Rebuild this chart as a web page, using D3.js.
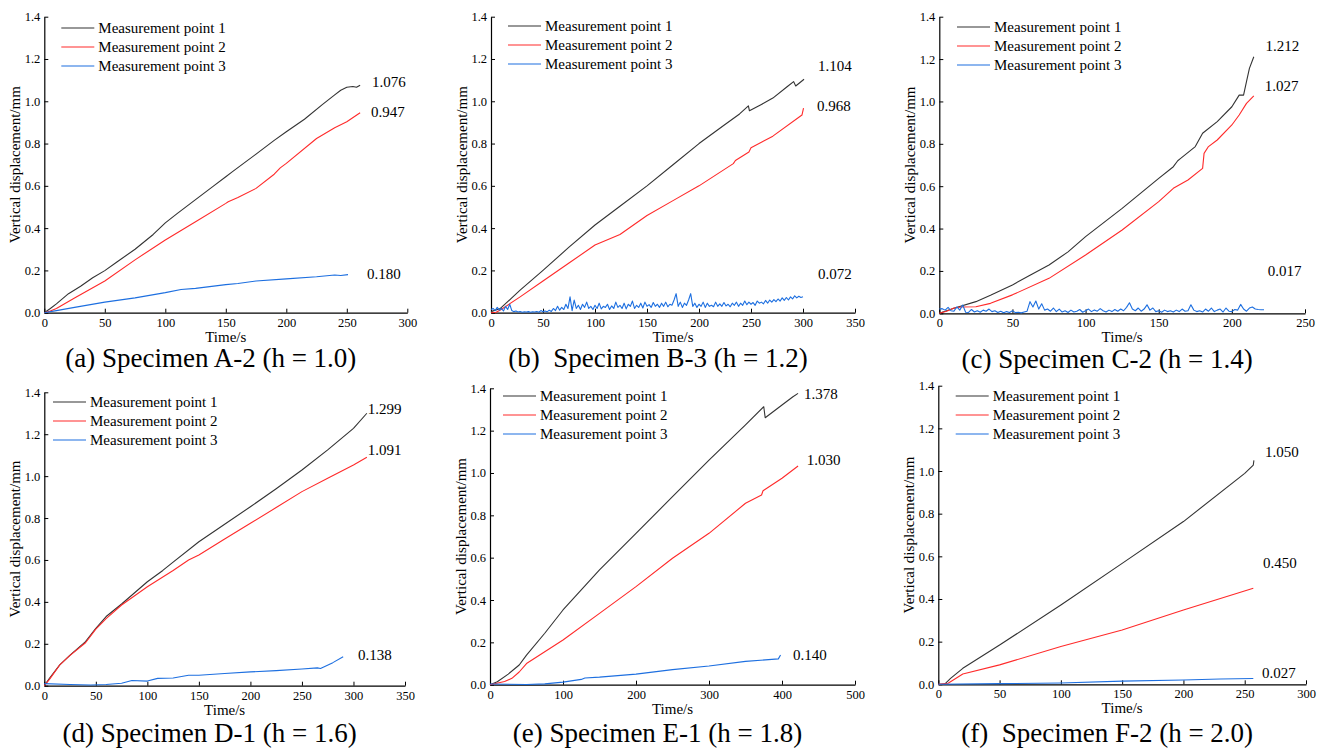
<!DOCTYPE html>
<html>
<head>
<meta charset="utf-8">
<script src="https://cdn.jsdelivr.net/npm/d3@7"></script>
<style>
  body { margin: 0; background: #fff; }
  svg { display: block; }
  text { font-family: "Liberation Serif", "Times New Roman", serif; fill: #000; }
</style>
</head>
<body>
<svg id="chart" width="1327" height="749"></svg>
<script>
// ---- data (time in s, displacement in mm) ----
var seriesNames = ['Measurement point 1', 'Measurement point 2', 'Measurement point 3'];
var seriesColors = ['#333333', '#ff2a2a', '#1d6fe0'];
var yTicks = [0, 0.2, 0.4, 0.6, 0.8, 1.0, 1.2, 1.4];

var titles = ['(a) Specimen A-2 (h = 1.0)', '(b)  Specimen B-3 (h = 1.2)', '(c) Specimen C-2 (h = 1.4)',
              '(d) Specimen D-1 (h = 1.6)', '(e) Specimen E-1 (h = 1.8)', '(f)  Specimen F-2 (h = 2.0)'];
var xTicks = [
  [0, 50, 100, 150, 200, 250, 300],
  [0, 50, 100, 150, 200, 250, 300, 350],
  [0, 50, 100, 150, 200, 250],
  [0, 50, 100, 150, 200, 250, 300, 350],
  [0, 100, 200, 300, 400, 500],
  [0, 50, 100, 150, 200, 250, 300]
];
var endLabels = [
  ['1.076', '0.947', '0.180'],
  ['1.104', '0.968', '0.072'],
  ['1.212', '1.027', '0.017'],
  ['1.299', '1.091', '0.138'],
  ['1.378', '1.030', '0.140'],
  ['1.050', '0.450', '0.027']
];

var a1 = [[0,0],[5,0.02],[10,0.042],[20,0.09],[30,0.125],[40,0.165],[50,0.199],[60,0.24],[75,0.3],[90,0.37],[100,0.425],[110,0.47],[125,0.535],[140,0.6],[150,0.643],[155,0.665],[175,0.75],[190,0.815],[200,0.856],[215,0.915],[230,0.985],[240,1.03],[245,1.052],[250,1.066],[255,1.07],[258,1.066],[261,1.076]];
var a2 = [[0,0],[5,0.008],[10,0.02],[25,0.07],[50,0.15],[75,0.25],[100,0.344],[125,0.43],[150,0.517],[152,0.525],[160,0.545],[175,0.588],[190,0.655],[195,0.685],[200,0.706],[225,0.824],[240,0.875],[250,0.903],[261,0.946]];
var a3 = [[0,0],[10,0.01],[25,0.025],[50,0.05],[75,0.07],[100,0.095],[113,0.11],[125,0.115],[150,0.133],[160,0.138],[175,0.15],[200,0.16],[225,0.17],[240,0.178],[245,0.176],[251,0.18]];

var b1 = [[0,0.005],[9,0.02],[20,0.07],[28,0.107],[50,0.2],[75,0.31],[100,0.415],[123,0.5],[150,0.6],[175,0.7],[200,0.8],[225,0.89],[239,0.94],[247.5,0.978],[248.5,0.955],[260,0.985],[271,1.015],[285,1.07],[291,1.093],[293,1.072],[301,1.104]];
var b2 = [[0,0],[5,0.002],[9,0.013],[28,0.075],[50,0.15],[75,0.235],[100,0.32],[124,0.37],[150,0.46],[175,0.53],[200,0.6],[233,0.705],[235,0.72],[248,0.76],[250,0.78],[271,0.835],[299,0.935],[300.5,0.968]];
var b3Times = d3.range(0, 301, 2);
var b3Values = [
  0.015,0.02,0.01,0.025,0.012,0.02,0.008,0.03,0.015,0.04,
  0.01,0.005,0.008,0.003,0.006,0.002,0.004,0.003,0.005,0.002,
  0.004,0.003,0.006,0.002,0.01,0.005,0.008,0.004,0.012,0.006,
  0.02,0.01,0.03,0.012,0.025,0.015,0.04,0.02,0.075,0.01,
  0.06,0.02,0.035,0.015,0.04,0.025,0.05,0.02,0.03,0.015,
  0.035,0.02,0.045,0.018,0.03,0.025,0.04,0.015,0.032,0.02,
  0.05,0.025,0.035,0.02,0.045,0.018,0.04,0.03,0.055,0.02,
  0.035,0.025,0.045,0.022,0.05,0.03,0.038,0.025,0.048,0.03,
  0.04,0.025,0.045,0.03,0.05,0.028,0.04,0.035,0.06,0.09,
  0.03,0.05,0.025,0.045,0.035,0.06,0.09,0.03,0.045,0.025,
  0.04,0.03,0.05,0.025,0.045,0.03,0.035,0.028,0.05,0.03,
  0.042,0.03,0.048,0.032,0.04,0.028,0.045,0.035,0.05,0.03,
  0.045,0.035,0.055,0.038,0.05,0.04,0.048,0.035,0.055,0.045,
  0.05,0.042,0.058,0.045,0.06,0.05,0.062,0.052,0.065,0.055,
  0.07,0.058,0.072,0.06,0.075,0.065,0.08,0.07,0.078,0.072,
  0.075
];

var c1 = [[0,0],[5,0.012],[10,0.024],[25,0.055],[35,0.085],[50,0.134],[62,0.18],[75,0.228],[88,0.29],[100,0.362],[125,0.495],[150,0.637],[160,0.692],[163,0.72],[165,0.731],[175,0.787],[180,0.85],[190,0.905],[200,0.975],[205,1.03],[208,1.03],[210,1.093],[212,1.156],[215,1.211]];
var c2 = [[0,0],[5,0.01],[10,0.025],[15,0.03],[25,0.031],[35,0.047],[50,0.087],[75,0.165],[100,0.275],[125,0.393],[150,0.527],[160,0.59],[170,0.629],[180,0.684],[181,0.755],[184,0.787],[190,0.818],[200,0.889],[205,0.936],[210,0.991],[215,1.026]];
var c3Times = d3.range(0, 223, 2);
var c3Values = [
  0.02,0.022,0.015,0.028,0.012,0.01,0.03,0.015,0.039,0.005,
  0.004,0.018,0.006,0.012,0.005,0.015,0.01,0.02,0.008,0.012,
  0.004,0.01,0.003,0.008,0.004,0.012,0.003,0.005,0.002,0.006,
  0.01,0.055,0.03,0.058,0.02,0.045,0.015,0.02,0.01,0.025,
  0.008,0.02,0.006,0.012,0.004,0.015,0.006,0.01,0.018,0.005,
  0.012,0.02,0.008,0.016,0.01,0.022,0.012,0.006,0.015,0.008,
  0.018,0.01,0.02,0.012,0.028,0.05,0.02,0.012,0.025,0.01,
  0.02,0.04,0.015,0.025,0.008,0.012,0.005,0.015,0.008,0.012,
  0.006,0.015,0.008,0.02,0.01,0.012,0.04,0.015,0.008,0.012,
  0.006,0.02,0.01,0.025,0.008,0.015,0.02,0.006,0.025,0.01,
  0.008,0.018,0.015,0.042,0.02,0.01,0.025,0.03,0.02,0.018,
  0.017,0.017
];

var d1 = [[0,0],[5,0.035],[10,0.067],[15,0.099],[25,0.146],[40,0.21],[50,0.274],[60,0.33],[75,0.39],[100,0.496],[115,0.55],[125,0.59],[150,0.687],[175,0.77],[200,0.854],[225,0.94],[250,1.029],[275,1.125],[300,1.228],[313,1.3]];
var d2 = [[0,0],[5,0.03],[10,0.065],[15,0.099],[25,0.145],[40,0.205],[50,0.27],[60,0.32],[75,0.385],[100,0.472],[125,0.55],[140,0.6],[150,0.624],[175,0.7],[200,0.775],[225,0.85],[250,0.926],[275,0.99],[300,1.053],[313,1.09]];
var d3v = [[0,0.01],[25,0.006],[45,0.003],[60,0.006],[75,0.012],[85,0.025],[100,0.022],[110,0.035],[125,0.037],[140,0.05],[150,0.05],[175,0.058],[200,0.066],[225,0.072],[250,0.08],[265,0.085],[268,0.082],[280,0.11],[290,0.138]];

var e1 = [[0,0],[10,0.014],[25,0.05],[40,0.093],[50,0.14],[75,0.243],[100,0.353],[150,0.542],[200,0.715],[250,0.888],[300,1.061],[350,1.227],[375,1.313],[377,1.261],[400,1.321],[415,1.36],[422,1.376]];
var e2 = [[0,0],[20,0.015],[30,0.03],[40,0.06],[50,0.1],[100,0.211],[150,0.337],[200,0.463],[250,0.597],[300,0.715],[350,0.857],[372,0.896],[374,0.916],[400,0.975],[422,1.033]];
var e3 = [[0,0.003],[50,0.001],[75,0.004],[100,0.012],[125,0.025],[130,0.032],[150,0.036],[200,0.05],[250,0.071],[300,0.088],[350,0.11],[395,0.122],[398,0.14]];

var f1 = [[0,0],[5,0],[10,0.028],[20,0.075],[50,0.184],[100,0.372],[150,0.567],[200,0.763],[250,0.989],[257,1.028],[257.5,1.05]];
var f2 = [[0,0],[8,0.005],[20,0.048],[50,0.091],[100,0.177],[150,0.255],[200,0.348],[257,0.45]];
var f3 = [[0,0],[50,0.003],[100,0.006],[150,0.015],[200,0.02],[230,0.025],[257,0.027]];

function zip(ts, vs) { return ts.map(function(t, i) { return [t, vs[i]]; }); }
var panelSeries = [
  [a1, a2, a3],
  [b1, b2, zip(b3Times, b3Values)],
  [c1, c2, zip(c3Times, c3Values)],
  [d1, d2, d3v],
  [e1, e2, e3],
  [f1, f2, f3]
];

// ---- layout (pixels) ----
var layout = [
  { left: 44.3, right: 407.3, top: 16.7, bottom: 312.7, legX: 17, legY: 11.3, titleY: 367 },
  { left: 491, right: 855, top: 16.7, bottom: 312.7, legX: 17, legY: 9.3, titleY: 367 },
  { left: 939.3, right: 1305, top: 16.7, bottom: 313.3, legX: 17.7, legY: 10.3, titleY: 367.5 },
  { left: 44.3, right: 405, top: 392.3, bottom: 685.7, legX: 8.7, legY: 9.7, titleY: 742 },
  { left: 490, right: 855, top: 388.3, bottom: 684.7, legX: 13, legY: 7.7, titleY: 742 },
  { left: 938.3, right: 1306, top: 385.7, bottom: 684.3, legX: 17.4, legY: 10.3, titleY: 742 }
];
// end label anchors (data units: time, displacement) for left/middle of text
var labelAnchors = [
  [[270.8, 1.091], [270, 0.949], [266.7, 0.183]],
  [[314.4, 1.167], [313.5, 0.978], [314.4, 0.183]],
  [[223, 1.261], [222.5, 1.076], [224.5, 0.2]],
  [[313.8, 1.32], [313.8, 1.124], [304.4, 0.146]],
  [[430, 1.373], [434, 1.061], [415, 0.14]],
  [[266.5, 1.09], [264.9, 0.57], [264, 0.054]]
];

var svg = d3.select('#chart');
svg.append('rect').attr('width', 1327).attr('height', 749).attr('fill', '#fff');

layout.forEach(function(L, p) {
  var ticks = xTicks[p];
  var x = d3.scaleLinear().domain([0, ticks[ticks.length - 1]]).range([L.left, L.right]);
  var y = d3.scaleLinear().domain([0, 1.4]).range([L.bottom, L.top]);
  var g = svg.append('g');

  // axes
  var xAxis = g.append('g')
    .attr('transform', 'translate(0,' + L.bottom + ')')
    .call(d3.axisBottom(x).tickValues(ticks).tickSizeInner(-4).tickSizeOuter(0).tickPadding(5)
      .tickFormat(d3.format('d')));
  var yAxis = g.append('g')
    .attr('transform', 'translate(' + L.left + ',0)')
    .call(d3.axisLeft(y).tickValues(yTicks).tickSizeInner(-4).tickSizeOuter(0).tickPadding(4)
      .tickFormat(d3.format('.1f')));
  [xAxis, yAxis].forEach(function(ax) {
    ax.select('.domain').attr('stroke', '#000').attr('stroke-width', 1.2);
    ax.selectAll('.tick line').attr('stroke', '#000').attr('stroke-width', 1);
    ax.selectAll('.tick text').style('font-family', '"Liberation Serif", "Times New Roman", serif')
      .style('font-size', '12.5px').attr('fill', '#000');
  });

  // axis titles
  g.append('text')
    .attr('x', (L.left + L.right) / 2).attr('y', L.bottom + 29)
    .attr('text-anchor', 'middle').style('font-size', '15px').text('Time/s');
  g.append('text')
    .attr('transform', 'translate(' + (L.left - 24) + ',' + ((L.top + L.bottom) / 2) + ') rotate(-90)')
    .attr('text-anchor', 'middle').style('font-size', '15px').text('Vertical displacement/mm');

  // lines
  var line = d3.line().x(function(d) { return x(d[0]); }).y(function(d) { return y(d[1]); });
  panelSeries[p].forEach(function(s, i) {
    g.append('path').datum(s).attr('d', line)
      .attr('fill', 'none').attr('stroke', seriesColors[i]).attr('stroke-width', 1.1)
      .attr('stroke-linejoin', 'round');
  });

  // end value labels
  endLabels[p].forEach(function(txt, i) {
    var a = labelAnchors[p][i];
    g.append('text').attr('x', x(a[0])).attr('y', y(a[1])).attr('dy', '0.35em')
      .style('font-size', '15px').text(txt);
  });

  // legend
  seriesNames.forEach(function(name, i) {
    var ly = L.top + L.legY + i * 19;
    var lx = L.left + L.legX;
    g.append('line').attr('x1', lx).attr('x2', lx + 33).attr('y1', ly).attr('y2', ly)
      .attr('stroke', seriesColors[i]).attr('stroke-width', 1.1);
    g.append('text').attr('x', lx + 37).attr('y', ly).attr('dy', '0.35em')
      .style('font-size', '15px').text(name);
  });

  // caption
  g.append('text')
    .attr('x', (L.left + L.right) / 2 - 15).attr('y', L.titleY)
    .attr('text-anchor', 'middle').style('font-size', '27px').style('white-space', 'pre')
    .text(titles[p]);
});
</script>
</body>
</html>
